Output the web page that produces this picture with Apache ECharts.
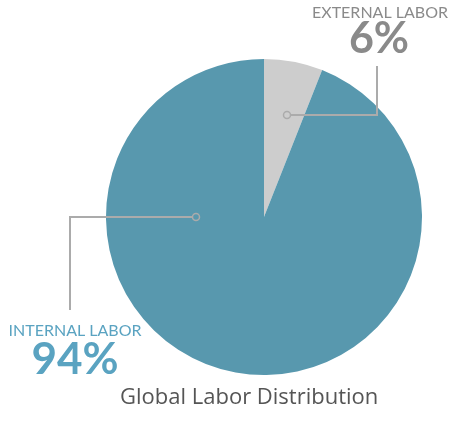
<!DOCTYPE html>
<html><head><meta charset="utf-8">
<script src="https://cdn.jsdelivr.net/npm/echarts@6/dist/echarts.min.js"></script>
<style>html,body{margin:0;padding:0;background:#fff}#c{width:453px;height:421px}</style>
</head><body><div id="c"></div>
<script>
const categories = ['EXTERNAL LABOR', 'INTERNAL LABOR'];
const values = [6, 94];
const sliceColors = ['#cdcdcd', '#5898ae'];
const labelColors = ['#8a8a8a', '#5aa3c1'];
const titleText = 'Global Labor Distribution';

const chart = echarts.init(document.getElementById('c'));
const FONT = 'Lato';
const lineColor = '#ababab';
chart.setOption({
  animation: false,
  title: {
    text: titleText, left: 120, top: 387,
    textStyle: {fontFamily: 'Open Sans', fontSize: 22, fontWeight: 'normal', color: '#555'},
    padding: 0, itemGap: 0
  },
  series: [{
    type: 'pie', center: [264, 217], radius: [0, 158], startAngle: 90, clockwise: true,
    label: {show: false}, labelLine: {show: false}, silent: true, z: 1,
    data: categories.map((c, i) => ({name: c, value: values[i], itemStyle: {color: sliceColors[i]}}))
  }],
  graphic: {elements: [
    {type: 'polyline', z: 100, shape: {points: [[290.5, 115], [377, 115], [377, 66]]}, style: {stroke: lineColor, lineWidth: 2, fill: null}},
    {type: 'circle', z: 101, shape: {cx: 287, cy: 115, r: 3.5}, style: {stroke: lineColor, lineWidth: 1.5, fill: sliceColors[0]}},
    {type: 'polyline', z: 100, shape: {points: [[192.5, 217], [70, 217], [70, 310]]}, style: {stroke: lineColor, lineWidth: 2, fill: null}},
    {type: 'circle', z: 101, shape: {cx: 196, cy: 217, r: 3.5}, style: {stroke: lineColor, lineWidth: 1.5, fill: sliceColors[1]}},
    {type: 'text', z: 100, x: 380, y: 5, style: {text: categories[0], fontFamily: FONT, fontSize: 16, fill: labelColors[0], align: 'center', verticalAlign: 'top'}},
    {type: 'text', z: 100, x: 379, y: 18, style: {text: values[0] + '%', fontFamily: FONT, fontSize: 43, fontWeight: 'bold', fill: labelColors[0], align: 'center', verticalAlign: 'top'}},
    {type: 'text', z: 100, x: 75, y: 323, style: {text: categories[1], fontFamily: FONT, fontSize: 16, fill: labelColors[1], align: 'center', verticalAlign: 'top'}},
    {type: 'text', z: 100, x: 75, y: 338, style: {text: values[1] + '%', fontFamily: FONT, fontSize: 44, fontWeight: 'bold', fill: labelColors[1], align: 'center', verticalAlign: 'top'}}
  ]}
});
</script></body></html>
